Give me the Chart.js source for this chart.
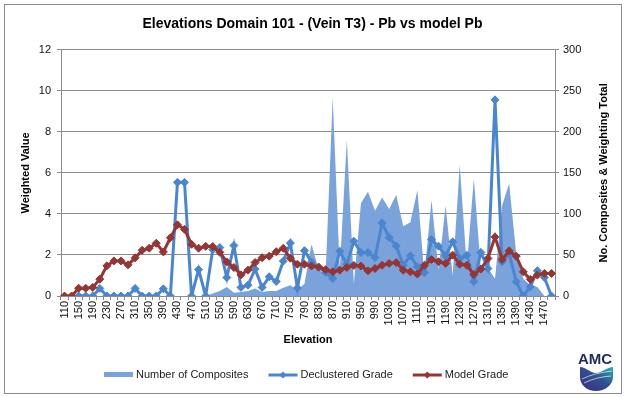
<!DOCTYPE html>
<html lang="en">
<head>
<meta charset="UTF-8">
<title>Elevations Domain 101 - Pb vs model Pb</title>
<style>
  html, body { margin: 0; padding: 0; background: #fff; }
  #wrap { position: relative; width: 625px; height: 397px; }
  #frame { position: absolute; left: 4px; top: 4px; width: 618px; height: 390px; border: 1px solid #8c8c8c; box-sizing: border-box; pointer-events: none; }
  #logo { position: absolute; left: 577px; top: 349px; }
</style>
</head>
<body>

<div id="wrap">
  <canvas id="myChart" width="625" height="397"></canvas>
  <div id="frame"></div>
  <svg id="logo" width="42" height="44" viewBox="0 0 42 44">
    <defs>
      <linearGradient id="amcGrad" x1="0" y1="1" x2="1" y2="0">
        <stop offset="0" stop-color="#3b2f82"/>
        <stop offset="0.55" stop-color="#30508f"/>
        <stop offset="1" stop-color="#27b3b6"/>
      </linearGradient>
    </defs>
    <text x="1" y="15" font-family="Liberation Sans, Arial, sans-serif" font-weight="bold" font-size="15" fill="#1f2a5e">AMC</text>
    <path d="M3,18 C9,18 13,24 19,24 C25,24 30,18 36,18 L36,28 C36,36 28,42 19,42 C10,42 3,36 3,28 Z" fill="url(#amcGrad)"/>
    <path d="M5,30 Q17,24 35,22" stroke="#fff" stroke-width="0.8" fill="none" opacity="0.8"/>
    <path d="M7,34 Q19,28 34,27" stroke="#fff" stroke-width="0.8" fill="none" opacity="0.8"/>
  </svg>
</div>

<script src="https://cdn.jsdelivr.net/npm/chart.js@4/dist/chart.umd.min.js"></script>
<script>
// categories (elevation, every 20)
var elevations = [110, 130, 150, 170, 190, 210, 230, 250, 270, 290,
                  310, 330, 350, 370, 390, 410, 430, 450, 470, 490,
                  510, 530, 550, 570, 590, 610, 630, 650, 670, 690,
                  710, 730, 750, 770, 790, 810, 830, 850, 870, 890,
                  910, 930, 950, 970, 990, 1010, 1030, 1050, 1070, 1090,
                  1110, 1130, 1150, 1170, 1190, 1210, 1230, 1250, 1270, 1290,
                  1310, 1330, 1350, 1370, 1390, 1410, 1430, 1450, 1470, 1490];

// labels shown on the x axis
var elevationTicks = [110, 150, 190, 230, 270, 310, 350, 390, 430, 470,
                      510, 550, 590, 630, 670, 710, 750, 790, 830, 870,
                      910, 950, 990, 1030, 1070, 1110, 1150, 1190, 1230, 1270,
                      1310, 1350, 1390, 1430, 1470];

// right axis
var composites = [0, 0, 0, 0, 0, 0, 0, 0, 0, 0,
                  0, 0, 0, 0, 0, 0, 0, 0, 0, 0,
                  0, 3, 6, 11, 4, 5, 6, 9, 5, 6,
                  6, 10, 13, 7, 15, 63, 32, 27, 242, 32,
                  190, 15, 113, 127, 104, 120, 106, 123, 85, 90,
                  129, 25, 117, 32, 110, 25, 160, 36, 143, 32,
                  34, 21, 110, 137, 52, 21, 13, 11, 0, 0];

// left axis
var declustered = [null, null, 0, 0, 0, 0.37, 0, 0, 0, 0,
                   0.37, 0, 0, 0, 0.35, 0, 5.54, 5.54, 0, 1.29,
                   0, 2.26, 2.36, 0.9, 2.46, 0.42, 0.53, 1.31, 0.42, 0.94,
                   0.71, 1.7, 2.58, 0.39, 2.21, 1.65, 1.4, 1.15, 0.85, 2.18,
                   1.55, 2.67, 2.12, 2.12, 1.88, 3.56, 2.85, 2.44, 1.5, 1.96,
                   1.42, 1.13, 2.75, 2.43, 1.96, 2.64, 1.83, 1.99, 0.71, 2.12,
                   1.34, 9.56, 1.67, 2.07, 0.7, 0, 0.45, 1.23, 0.9, 0];

var modelGrade = [0, 0, 0.38, 0.38, 0.42, 0.82, 1.47, 1.71, 1.71, 1.52,
                  1.86, 2.23, 2.33, 2.57, 2.15, 2.84, 3.47, 3.25, 2.52, 2.33,
                  2.42, 2.41, 2.13, 1.66, 1.39, 1.03, 1.26, 1.63, 1.87, 1.94,
                  2.16, 2.33, 1.84, 1.55, 1.55, 1.46, 1.41, 1.28, 1.18, 1.26,
                  1.39, 1.49, 1.46, 1.23, 1.34, 1.5, 1.59, 1.63, 1.26, 1.18,
                  1.07, 1.5, 1.78, 1.67, 1.59, 1.99, 1.55, 1.5, 1.05, 1.31,
                  1.83, 2.88, 1.78, 2.2, 1.94, 1.18, 0.81, 1.02, 1.1, 1.1];

var rightAxisTitle = 'No. Composites & Weighting Total';

var areaBlue = 'rgb(122,163,220)';
var lineBlue = '#4a86cf';
var lineRed = '#943634';
var gridGray = '#8c8c8c';
var FONT = 'Liberation Sans, Arial, sans-serif';

// legend + right axis title (right title reads bottom-to-top like the original)
var extras = {
    id: 'extras',
    afterDraw: function(c) {
        var g = c.ctx;
        var area = c.chartArea;
        g.save();
        g.fillStyle = '#000';
        g.font = 'bold 11px ' + FONT;
        g.textAlign = 'center';
        g.textBaseline = 'middle';
        g.translate(604, (area.top + area.bottom) / 2);
        g.rotate(-Math.PI / 2);
        g.fillText(rightAxisTitle, 0, 0);
        g.restore();

        g.save();
        g.font = '11px ' + FONT;
        g.textBaseline = 'middle';
        var y = 375, x = 104;
        c.data.datasets.forEach(function(ds, i) {
            if (i === 0) {
                g.fillStyle = ds.backgroundColor;
                g.fillRect(x, y - 3, 29, 5);
            } else {
                g.strokeStyle = ds.borderColor;
                g.lineWidth = 3;
                g.beginPath();
                g.moveTo(x, y);
                g.lineTo(x + 29, y);
                g.stroke();
                g.fillStyle = ds.borderColor;
                g.beginPath();
                g.moveTo(x + 14.5, y - 3.5);
                g.lineTo(x + 18, y);
                g.lineTo(x + 14.5, y + 3.5);
                g.lineTo(x + 11, y);
                g.closePath();
                g.fill();
            }
            g.fillStyle = '#222';
            g.fillText(ds.label, x + 32, y);
            x += 32 + g.measureText(ds.label).width + 20;
        });
        g.restore();
    }
};

var ctx = document.getElementById('myChart').getContext('2d');
var chart = new Chart(ctx, {
    type: 'line',
    data: {
        labels: elevations,
        datasets: [{
            label: 'Number of Composites',
            data: composites,
            yAxisID: 'y2',
            fill: 'origin',
            backgroundColor: areaBlue,
            borderColor: areaBlue,
            borderWidth: 0,
            pointRadius: 0,
            tension: 0,
            order: 3
        }, {
            label: 'Declustered Grade',
            data: declustered,
            yAxisID: 'y',
            fill: false,
            borderColor: lineBlue,
            backgroundColor: lineBlue,
            borderWidth: 3,
            pointStyle: 'rectRot',
            pointRadius: 4,
            pointBorderWidth: 1,
            tension: 0,
            order: 2
        }, {
            label: 'Model Grade',
            data: modelGrade,
            yAxisID: 'y',
            fill: false,
            borderColor: lineRed,
            backgroundColor: lineRed,
            borderWidth: 3,
            pointStyle: 'rectRot',
            pointRadius: 4,
            pointBorderWidth: 1,
            tension: 0,
            order: 1
        }]
    },
    options: {
        responsive: false,
        animation: false,
        devicePixelRatio: 1,
        layout: { padding: { top: 10, bottom: 47, left: 0, right: 0 } },
        plugins: {
            legend: { display: false },
            tooltip: { enabled: false },
            title: {
                display: true,
                text: 'Elevations Domain 101 - (Vein T3) - Pb vs model Pb',
                color: '#000',
                font: { family: FONT, size: 14, weight: 'bold' },
                padding: { top: 6, bottom: 17 }
            }
        },
        scales: {
            x: {
                type: 'category',
                offset: true,
                grid: { offset: true, drawOnChartArea: false, tickLength: 4, color: gridGray },
                border: { color: gridGray },
                ticks: {
                    autoSkip: false,
                    maxRotation: 90,
                    minRotation: 90,
                    padding: 1,
                    color: '#111',
                    font: { family: FONT, size: 11 },
                    callback: function(value) {
                        var lab = this.getLabelForValue(value);
                        return elevationTicks.indexOf(lab) >= 0 ? String(lab) : '';
                    }
                },
                title: {
                    display: true,
                    text: 'Elevation',
                    color: '#000',
                    font: { family: FONT, size: 11, weight: 'bold' },
                    padding: { top: 2, bottom: 3 }
                },
                afterFit: function(s) { s.height = 54; }
            },
            y: {
                position: 'left',
                min: 0,
                max: 12,
                ticks: { stepSize: 2, padding: 6, color: '#111', font: { family: FONT, size: 11 } },
                grid: { color: gridGray, tickLength: 4 },
                border: { color: gridGray },
                title: {
                    display: true,
                    text: 'Weighted Value',
                    color: '#000',
                    font: { family: FONT, size: 11, weight: 'bold' },
                    padding: { top: 19, bottom: 0 }
                },
                afterFit: function(s) { s.width = 61; }
            },
            y2: {
                position: 'right',
                min: 0,
                max: 300,
                ticks: { stepSize: 50, padding: 4, color: '#111', font: { family: FONT, size: 11 } },
                grid: { drawOnChartArea: false, color: gridGray, tickLength: 4 },
                border: { color: gridGray },
                afterFit: function(s) { s.width = 70; }
            }
        }
    },
    plugins: [extras]
});
</script>
</body>
</html>
